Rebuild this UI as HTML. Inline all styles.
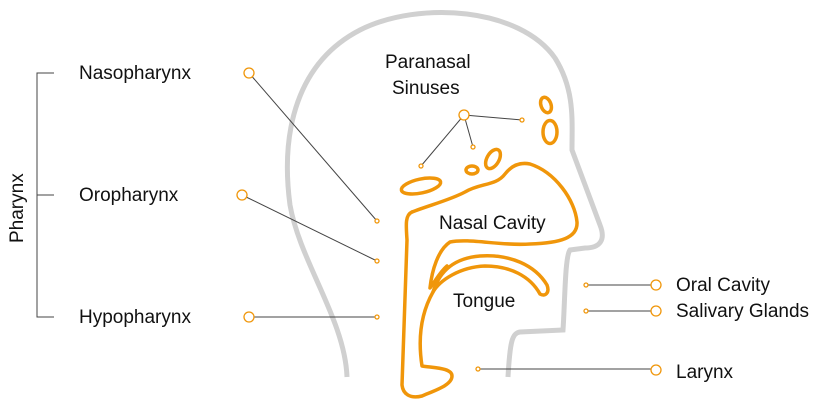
<!DOCTYPE html>
<html><head><meta charset="utf-8"><style>
html,body{margin:0;padding:0;background:#fff;}
svg{display:block;}
text{font-family:"Liberation Sans",sans-serif;font-size:19px;fill:#111;}
</style></head><body>
<svg width="825" height="400" viewBox="0 0 825 400">
<path d="M347,377 C345,320 300,262 290,205 C280,130 298,62 360,30 C420,0 520,8 555,58 C575,90 572,120 572,150 L600,225 C606,240 600,248 585,248 L570,250 C565,256 565,300 563,330 L520,332 C512,333 510,342 508,377" fill="none" stroke="#d0d0d0" stroke-width="5"/>
<g fill="none" stroke="#f0960a" stroke-width="3.5" stroke-linejoin="round" stroke-linecap="round">
<path d="M412,212 C430,205 450,200 465,192 C480,183 496,186 505,174 C512,165 520,162 530,164 C555,172 575,200 577,222 C578,238 560,243 530,244 C500,246 470,238 450,242 C438,250 432,270 430,288 C436,280 440,272 447,266"/>
<path d="M433,292 C440,270 455,258 480,256 C510,254 535,265 547,285 C550,293 545,297 540,294 C530,276 510,266 485,266 C460,267 440,280 433,292"/>
<path d="M433,292 C420,315 418,340 422,366 C435,368 452,368 452,376 C452,385 436,390 422,396 C410,399 403,394 402,385 L407,240 C406,225 405,215 412,212"/>
<ellipse cx="421" cy="186" rx="20" ry="7" transform="rotate(-12 421 186)"/>
<ellipse cx="472" cy="170" rx="6" ry="4"/>
<ellipse cx="493" cy="159" rx="6" ry="10.5" transform="rotate(30 493 159)"/>
<ellipse cx="546" cy="105" rx="5" ry="8" transform="rotate(-20 546 105)"/>
<ellipse cx="550" cy="132" rx="7" ry="11.5"/>
</g>
<g stroke="#444" stroke-width="1" fill="none">
<line x1="249" y1="73" x2="377" y2="221"/>
<line x1="242" y1="195" x2="377" y2="261"/>
<line x1="249" y1="317" x2="377" y2="317"/>
<line x1="464" y1="115" x2="421" y2="166"/>
<line x1="464" y1="115" x2="473" y2="147"/>
<line x1="464" y1="115" x2="522" y2="120"/>
<line x1="586" y1="285" x2="656" y2="285"/>
<line x1="586" y1="311" x2="656" y2="311"/>
<line x1="478" y1="369" x2="656" y2="369"/>
<path d="M54,73 H37 V317 H54 M37,195 H54"/>
</g>
<g fill="#fff" stroke="#f0960a" stroke-width="1.3">
<circle cx="249" cy="73" r="5"/><circle cx="242" cy="195" r="5"/><circle cx="249" cy="317" r="5"/>
<circle cx="464" cy="115" r="5"/>
<circle cx="656" cy="285" r="5"/><circle cx="656" cy="311" r="5"/><circle cx="656" cy="370" r="5"/>
<circle cx="377" cy="221" r="2"/><circle cx="377" cy="261" r="2"/><circle cx="377" cy="317" r="2"/>
<circle cx="421" cy="166" r="2"/><circle cx="473" cy="147" r="2"/><circle cx="522" cy="120" r="2"/>
<circle cx="586" cy="285" r="2"/><circle cx="586" cy="311" r="2"/><circle cx="478" cy="369" r="2"/>
</g>
<text x="79" y="79">Nasopharynx</text>
<text x="79" y="201">Oropharynx</text>
<text x="79" y="323">Hypopharynx</text>
<text transform="translate(23,243) rotate(-90)">Pharynx</text>
<text x="385" y="68">Paranasal</text>
<text x="392" y="94">Sinuses</text>
<text x="439" y="229">Nasal Cavity</text>
<text x="453" y="307">Tongue</text>
<text x="676" y="291">Oral Cavity</text>
<text x="676" y="317">Salivary Glands</text>
<text x="676" y="378">Larynx</text>
</svg>
</body></html>
